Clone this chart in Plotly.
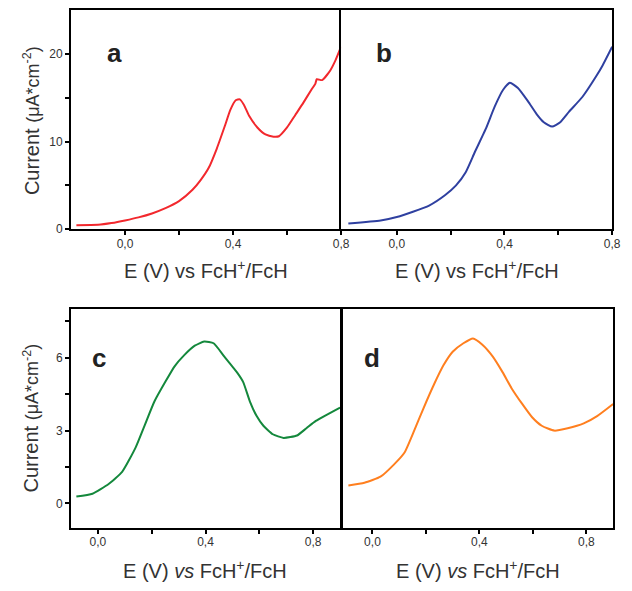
import plotly.graph_objects as go

# Panel a (red)
a_x = [-0.18, -0.10, -0.05, 0.00, 0.05, 0.10, 0.15, 0.20, 0.25, 0.28, 0.31, 0.34, 0.37, 0.39, 0.41, 0.425,
       0.44, 0.46, 0.49, 0.52, 0.55, 0.57, 0.60, 0.63, 0.66, 0.69, 0.705, 0.71, 0.73, 0.76, 0.78, 0.80]
a_y = [0.45, 0.5, 0.7, 1.0, 1.35, 1.8, 2.4, 3.2, 4.5, 5.6, 7.0, 9.2, 11.8, 13.6, 14.7, 14.8,
       14.2, 12.9, 11.6, 10.8, 10.55, 10.6, 11.6, 13.0, 14.4, 15.9, 16.6, 17.1, 17.0, 18.1, 19.3, 20.8]

# Panel b (blue)
b_x = [-0.18, -0.06, 0.00, 0.06, 0.12, 0.18, 0.22, 0.256, 0.29, 0.33, 0.364, 0.395, 0.42, 0.45, 0.487,
       0.52, 0.546, 0.577, 0.607, 0.64, 0.69, 0.74, 0.765, 0.80]
b_y = [0.65, 1.0, 1.4, 2.0, 2.7, 3.9, 5.0, 6.5, 8.8, 11.4, 14.0, 15.9, 16.7, 16.1, 14.6,
       13.1, 12.2, 11.7, 12.2, 13.4, 15.1, 17.4, 18.7, 20.8]

# Panel c (green)
c_x = [-0.08, -0.02, 0.04, 0.09, 0.14, 0.175, 0.21, 0.25, 0.285, 0.32, 0.36, 0.395, 0.43, 0.47, 0.517,
       0.54, 0.565, 0.59, 0.615, 0.65, 0.69, 0.74, 0.775, 0.81, 0.90]
c_y = [0.28, 0.4, 0.8, 1.3, 2.3, 3.25, 4.2, 5.0, 5.65, 6.1, 6.5, 6.67, 6.6, 6.05, 5.4,
       5.0, 4.2, 3.6, 3.2, 2.85, 2.7, 2.8, 3.1, 3.4, 3.95]

# Panel d (orange)
d_x = [-0.09, -0.03, 0.03, 0.08, 0.12, 0.156, 0.19, 0.23, 0.266, 0.30, 0.34, 0.376, 0.41, 0.45, 0.487,
       0.52, 0.56, 0.597, 0.633, 0.68, 0.73, 0.79, 0.84, 0.90]
d_y = [0.74, 0.85, 1.1, 1.6, 2.1, 3.0, 3.9, 4.9, 5.7, 6.25, 6.6, 6.8, 6.55, 6.05, 5.4,
       4.75, 4.1, 3.55, 3.2, 3.0, 3.1, 3.3, 3.6, 4.1]

x_tickvals = [0.0, 0.2, 0.4, 0.6, 0.8]
x_ticktext = ["0,0", "", "0,4", "", "0,8"]
ya_tickvals = [0, 5, 10, 15, 20]
ya_ticktext = ["0", "", "10", "", "20"]
yc_tickvals = [0, 1.5, 3, 4.5, 6, 7.5]
yc_ticktext = ["0", "", "3", "", "6", ""]

W, H = 632, 591
def px(x): return x / W
def py(y): return 1 - y / H

FONT = "Liberation Sans, Arial, sans-serif"
tickfont = dict(family=FONT, size=12, color="#333333")

fig = go.Figure()
for xs, ys, col, xa, ya in [(a_x, a_y, "#f2282d", "x", "y"), (b_x, b_y, "#2f40a0", "x2", "y2"),
                            (c_x, c_y, "#14883c", "x3", "y3"), (d_x, d_y, "#ff7f1f", "x4", "y4")]:
    fig.add_trace(go.Scatter(x=xs, y=ys, mode="lines",
                             line=dict(color=col, width=2, shape="spline", smoothing=0.5),
                             xaxis=xa, yaxis=ya, hoverinfo="skip"))

def xax(dom, rng, anchor):
    return dict(domain=dom, range=rng, anchor=anchor, showline=True, linecolor="black", linewidth=2,
                mirror=True, ticks="outside", ticklen=4, tickwidth=1.5, tickcolor="black",
                tickvals=x_tickvals, ticktext=x_ticktext, tickfont=tickfont, ticklabelstandoff=-2,
                ticklabeloverflow="allow", showgrid=False, zeroline=False, fixedrange=True)

def yax(dom, rng, anchor, tv=None, tt=None, mirror=True):
    d = dict(domain=dom, range=rng, anchor=anchor, showline=True, linecolor="black", linewidth=2,
             mirror=mirror, showgrid=False, zeroline=False, tickfont=tickfont, fixedrange=True)
    if tv is not None:
        d.update(ticks="outside", ticklen=4, tickwidth=1.5, tickcolor="black", tickvals=tv, ticktext=tt)
    else:
        d.update(ticks="", showticklabels=False)
    return d

top_dom = [py(232), py(10)]
bot_dom = [py(534), py(313)]

layout = dict(
    width=W, height=H, margin=dict(l=0, r=0, t=0, b=0),
    paper_bgcolor="white", plot_bgcolor="white", showlegend=False,
    xaxis=xax([px(72), px(346)], [-0.2, 0.8], "y"),
    yaxis=yax(top_dom, [0, 25], "x", ya_tickvals, ya_ticktext, mirror=False),
    xaxis2=xax([px(346), px(621)], [-0.207, 0.8], "y2"),
    yaxis2=yax(top_dom, [0, 25], "x2"),
    xaxis3=xax([px(72), px(345)], [-0.1, 0.9], "y3"),
    yaxis3=yax(bot_dom, [-1, 8], "x3", yc_tickvals, yc_ticktext),
    xaxis4=xax([px(348), px(622)], [-0.11, 0.9], "y4"),
    yaxis4=yax(bot_dom, [-1, 8], "x4"),
)
fig.update_layout(**layout)

ann = []
title_font = dict(family=FONT, size=20, color="#333333")
xt_top = "E (V) vs FcH<sup>+</sup>/FcH"
xt_bot = "E (V) <i>vs</i> FcH<sup>+</sup>/FcH"
ann.append(dict(x=px(209), y=py(273), text=xt_top))
ann.append(dict(x=px(484), y=py(273), text=xt_top))
ann.append(dict(x=px(208), y=py(576), text=xt_bot))
ann.append(dict(x=px(485), y=py(576), text=xt_bot))
yt = "Current <span style='font-size:18px'>(\u03bcA*cm<sup>-2</sup>)</span>"
ann.append(dict(x=px(32), y=py(122), text=yt, textangle=-90))
ann.append(dict(x=px(32), y=py(423), text=yt, textangle=-90))
for a in ann:
    a.update(xref="paper", yref="paper", showarrow=False, font=title_font, xanchor="center", yanchor="middle")

lab_font = dict(family=FONT, size=26, color="#222222")
for t, x, y in [("a", 116, 54), ("b", 390, 54), ("c", 100, 362), ("d", 377, 362)]:
    ann.append(dict(x=px(x), y=py(y), text="<b>%s</b>" % t, xref="paper", yref="paper", showarrow=False,
                    font=lab_font, xanchor="center", yanchor="middle"))

fig.update_layout(annotations=ann)
fig.write_html("out.html", config={"displayModeBar": False},
               post_script="document.body.style.margin='0';document.body.style.overflow='hidden';")
